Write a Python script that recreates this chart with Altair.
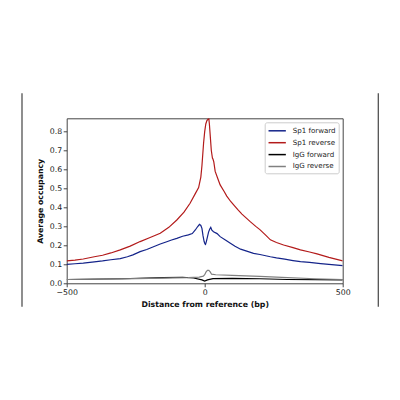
import altair as alt
import pandas as pd

# Sp1 forward
sp1f_x = [-500,-470,-440,-400,-370,-340,-306,-280,-260,-234,-210,-190,-161,-140,-120,-101,-80,-59,-45,-34,-26,-19,-14,-10,-6,-2,1,3,6,10,14,18,22,26,32,45,56,75,93,110,130,155,177,200,238,260,290,320,347,380,420,460,500]
sp1f_y = [.100,.103,.106,.113,.118,.124,.130,.140,.150,.167,.178,.190,.207,.218,.228,.237,.248,.255,.262,.281,.298,.311,.305,.29,.25,.22,.208,.205,.22,.245,.27,.285,.295,.28,.272,.262,.246,.228,.211,.195,.180,.168,.158,.152,.140,.134,.127,.12,.114,.11,.104,.098,.093]

# Sp1 reverse
sp1r_x = [-500,-470,-440,-400,-370,-340,-306,-270,-234,-200,-161,-130,-101,-75,-53,-35,-22,-14,-10,-4,0,4,8,12,15,17,20,24,28,30,33,38,48,56,70,80,95,105,120,135,150,165,185,200,220,238,260,286,320,347,380,407,450,500]
sp1r_y = [.118,.122,.128,.140,.148,.160,.176,.196,.22,.240,.264,.295,.334,.375,.422,.47,.505,.56,.62,.74,.80,.84,.858,.865,.868,.84,.78,.70,.66,.655,.64,.59,.55,.519,.485,.46,.43,.413,.388,.365,.345,.325,.30,.283,.255,.229,.215,.202,.188,.176,.165,.155,.137,.118]

# IgG forward
igf_x = [-500,-300,-150,-80,-40,-10,0,10,30,100,200,300,500]
igf_y = [.020,.024,.030,.032,.028,.018,.012,.018,.025,.026,.024,.020,.018]

# IgG reverse
igr_x = [-500,-300,-150,-60,-20,-5,0,5,10,15,20,25,40,100,200,300,400,500]
igr_y = [.020,.023,.027,.030,.033,.038,.045,.060,.068,.068,.060,.048,.045,.042,.037,.030,.024,.020]

series = ["Sp1 forward", "Sp1 reverse", "IgG forward", "IgG reverse"]
colors = ["#14248a", "#b31b1b", "#000000", "#808080"]

rows = []
for name, xs, ys in zip(series, [sp1f_x, sp1r_x, igf_x, igr_x], [sp1f_y, sp1r_y, igf_y, igr_y]):
    for i, (a, b) in enumerate(zip(xs, ys)):
        rows.append({"series": name, "x": a, "y": b, "order": i})
df = pd.DataFrame(rows)

lines = alt.Chart(df).mark_line(strokeWidth=1.2, clip=True).encode(
    x=alt.X("x:Q", scale=alt.Scale(domain=[-500, 500], nice=False),
            axis=alt.Axis(values=[-500, 0, 500], format="d", title="Distance from reference (bp)")),
    y=alt.Y("y:Q", scale=alt.Scale(domain=[0, 0.87], nice=False),
            axis=alt.Axis(values=[0, .1, .2, .3, .4, .5, .6, .7, .8], format=".1f", title="Average occupancy")),
    color=alt.Color("series:N", scale=alt.Scale(domain=series, range=colors),
                    legend=alt.Legend(title=None, orient="top-right", offset=4,
                                      symbolType="M-2,0H2", symbolSize=75, symbolStrokeWidth=1.5,
                                      symbolOffset=4, labelOffset=10, rowPadding=2.9,
                                      padding=3, labelFontSize=7.1, labelFont="DejaVu Sans",
                                      labelColor="#222",
                                      strokeColor="#cccccc", fillColor="white", cornerRadius=2)),
    order="order:Q",
)

one = pd.DataFrame({"k": [0]})
left_rule = alt.Chart(one).mark_rule(color="#444", strokeWidth=1.2).encode(
    x=alt.value(-44.7), y=alt.value(-25), y2=alt.value(188.4))
right_rule = alt.Chart(one).mark_rule(color="#444", strokeWidth=1.2).encode(
    x=alt.value(311.6), y=alt.value(-25), y2=alt.value(188.4))

chart = alt.layer(lines, left_rule, right_rule).properties(
    width=276, height=165,
    autosize=alt.AutoSizeParams(type="none"),
    padding={"left": 58.7, "top": 110.3, "right": 40, "bottom": 100},
).configure_view(
    stroke="#444", strokeWidth=1
).configure_axis(
    grid=False, domain=False, tickSize=3.5, tickColor="#333", tickWidth=0.9,
    labelFont="DejaVu Sans", labelFontSize=7.8, labelColor="#222", labelPadding=1.5,
    titleFont="DejaVu Sans", titleFontSize=7.8, titleFontWeight="bold", titleColor="#111",
).configure_axisX(
    labelFlush=False, titlePadding=4
).configure_axisY(
    titlePadding=5
)

chart.save("out.html", embed_options={"renderer": "svg", "actions": False})
